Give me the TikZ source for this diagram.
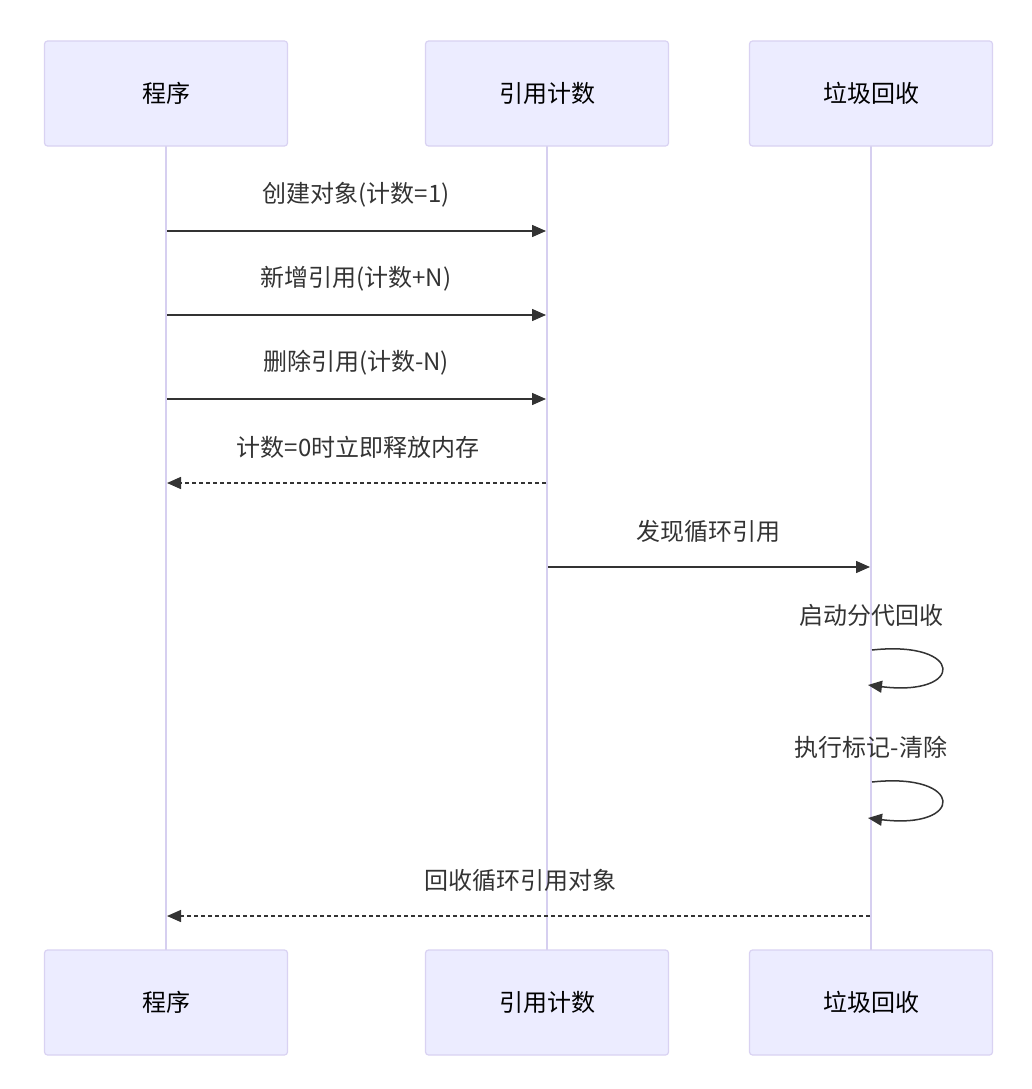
\documentclass[tikz,border=0pt]{standalone}
\usepackage{fontspec}
\setmainfont{Noto Sans CJK SC}
\usetikzlibrary{arrows.meta}
\definecolor{boxfill}{HTML}{ECECFF}
\definecolor{boxline}{HTML}{D9D2F2}
\definecolor{life}{HTML}{D6CFF0}
\definecolor{ink}{HTML}{333333}
\begin{document}
\begin{tikzpicture}[x=1pt,y=-1pt,
  actor/.style={draw=boxline,fill=boxfill,line width=1.2pt,rounded corners=3pt,minimum width=243pt,minimum height=105pt,font=\fontsize{24}{28}\selectfont,text=black},
  lifeline/.style={draw=life,line width=2pt},
  msg/.style={draw=ink,line width=1.5pt,-{Triangle[length=14pt,width=12pt]}},
  dmsg/.style={msg,dash pattern=on 4pt off 3pt},
  lbl/.style={font=\fontsize{24}{28}\selectfont,text=ink}]
\useasboundingbox (0,0) rectangle (1031,1089);
\draw[lifeline] (166,146) -- (166,950);
\draw[lifeline] (547,146) -- (547,950);
\draw[lifeline] (871,146) -- (871,950);
\node[actor] (a1) at (166,93.5) {程序};
\node[actor] (b1) at (547,93.5) {引用计数};
\node[actor] (c1) at (871,93.5) {垃圾回收};
\node[actor] (a2) at (166,1002.5) {程序};
\node[actor] (b2) at (547,1002.5) {引用计数};
\node[actor] (c2) at (871,1002.5) {垃圾回收};
\coordinate (p1) at (167,231); \coordinate (q1) at (546,231);
\coordinate (p2) at (167,315); \coordinate (q2) at (546,315);
\coordinate (p3) at (167,399); \coordinate (q3) at (546,399);
\coordinate (p4) at (167,483); \coordinate (q4) at (546,483);
\coordinate (q5) at (548,567); \coordinate (r5) at (870,567);
\coordinate (r6) at (872,650); \coordinate (s6) at (868,685);
\coordinate (r7) at (872,782); \coordinate (s7) at (868,818);
\coordinate (p8) at (167,916); \coordinate (r8) at (870,916);
\draw[msg] (p1) -- (q1);
\node[lbl] (l1) at (356,195) {创建对象(计数=1)};
\draw[msg] (p2) -- (q2);
\node[lbl] (l2) at (356,279) {新增引用(计数+N)};
\draw[msg] (p3) -- (q3);
\node[lbl] (l3) at (356,363) {删除引用(计数-N)};
\draw[dmsg] (q4) -- (p4);
\node[lbl] (l4) at (358,447) {计数=0时立即释放内存};
\draw[msg] (q5) -- (r5);
\node[lbl] (l5) at (708,531) {发现循环引用};
\draw[msg] (r6) .. controls (965,640) and (965,697) .. (s6);
\node[lbl] (l6) at (871,615) {启动分代回收};
\draw[msg] (r7) .. controls (965,772) and (965,830) .. (s7);
\node[lbl] (l7) at (871,747) {执行标记-清除};
\draw[dmsg] (r8) -- (p8);
\node[lbl] (l8) at (520,880) {回收循环引用对象};
\end{tikzpicture}
\end{document}
